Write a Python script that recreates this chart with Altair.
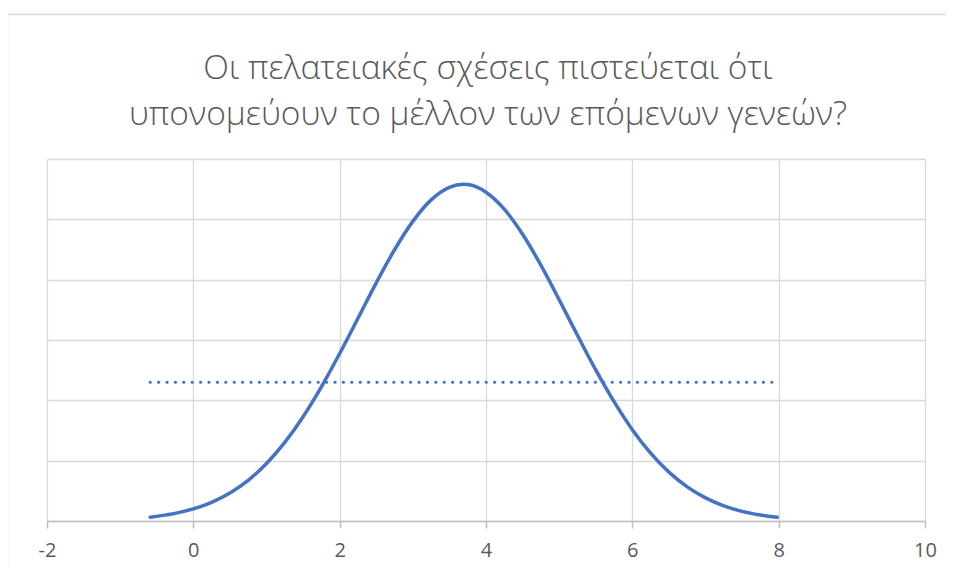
import altair as alt
import pandas as pd

# Curve values (x, relative height)
curve_x = [-0.59, -0.25, 0.0, 0.25, 0.5, 0.75, 1.0, 1.25, 1.5, 1.75, 2.0, 2.25, 2.5,
           2.75, 3.0, 3.25, 3.5, 3.69, 3.75, 4.0, 4.25, 4.5, 4.75, 5.0, 5.25, 5.5,
           5.75, 6.0, 6.25, 6.5, 6.75, 7.0, 7.25, 7.5, 7.75, 7.98]
curve_y = [0.0032, 0.0063, 0.0100, 0.0155, 0.0232, 0.0337, 0.0476, 0.0651, 0.0864,
           0.1112, 0.1388, 0.1680, 0.1974, 0.2248, 0.2483, 0.2661, 0.2765, 0.2790,
           0.2788, 0.2725, 0.2584, 0.2377, 0.2120, 0.1834, 0.1539, 0.1252, 0.0989,
           0.0757, 0.0562, 0.0405, 0.0283, 0.0192, 0.0126, 0.0080, 0.0050, 0.0031]

ref_x = [-0.59, 7.98]
ref_y = [0.115, 0.115]

x_ticks = [-2, 0, 2, 4, 6, 8, 10]
y_grid = [0, 0.05, 0.10, 0.15, 0.20, 0.25, 0.30]

title_lines = ["Οι πελατειακές σχέσεις πιστεύεται ότι",
               "υπονομεύουν το μέλλον των επόμενων γενεών?"]

curve_df = pd.DataFrame({"x": curve_x, "y": curve_y})
ref_df = pd.DataFrame({"x": ref_x, "y": ref_y})
one_df = pd.DataFrame({"k": [0]})

x_enc = alt.X("x:Q", scale=alt.Scale(domain=[-2, 10], nice=False, zero=False),
              axis=alt.Axis(values=x_ticks, title=None, grid=True, gridColor="#d9d9d9",
                            gridWidth=1.3, domainColor="#bfbfbf", domainWidth=1.5,
                            tickColor="#bfbfbf", tickWidth=1.5, tickSize=7,
                            labelFont="Open Sans", labelFontSize=20, labelColor="#595959",
                            labelPadding=12, labelFlush=False,
                            labelExpr="'' + datum.value"))
y_enc = alt.Y("y:Q", scale=alt.Scale(domain=[0, 0.3], nice=False, zero=True),
              axis=alt.Axis(values=y_grid, title=None, grid=True, gridColor="#d9d9d9",
                            gridWidth=1.3, labels=False, ticks=False, domain=False))

frame = alt.Chart(one_df).mark_rect(fillOpacity=0, stroke="#d9d9d9", strokeWidth=1.5).encode(
    x=alt.value(-39.5), x2=alt.value(930), y=alt.value(-144.5), y2=alt.value(430))

title1 = alt.Chart(one_df).mark_text(
    font="Open Sans", fontSize=33.5, fontWeight=300, color="#595959",
    align="center", baseline="middle"
).encode(text=alt.value(title_lines[0]), x=alt.value(441), y=alt.value(-90))

title2 = alt.Chart(one_df).mark_text(
    font="Open Sans", fontSize=33.5, fontWeight=300, color="#595959",
    align="center", baseline="middle"
).encode(text=alt.value(title_lines[1]), x=alt.value(441), y=alt.value(-44))

curve = alt.Chart(curve_df).mark_line(
    interpolate="monotone", color="#4472C4", strokeWidth=3.5, strokeCap="round"
).encode(x=x_enc, y=y_enc)

ref = alt.Chart(ref_df).mark_line(
    color="#4472C4", strokeWidth=3.2, strokeDash=[0.1, 8.3], strokeCap="round"
).encode(x="x:Q", y="y:Q")

chart = alt.layer(curve, ref, frame, title1, title2).properties(
    width=878, height=362,
    autosize=alt.AutoSizeParams(type="none"),
    padding={"left": 39, "top": 151, "right": 21, "bottom": 47},
).configure_view(stroke=None)

chart.save("out.html", embed_options={"renderer": "svg", "actions": False})
